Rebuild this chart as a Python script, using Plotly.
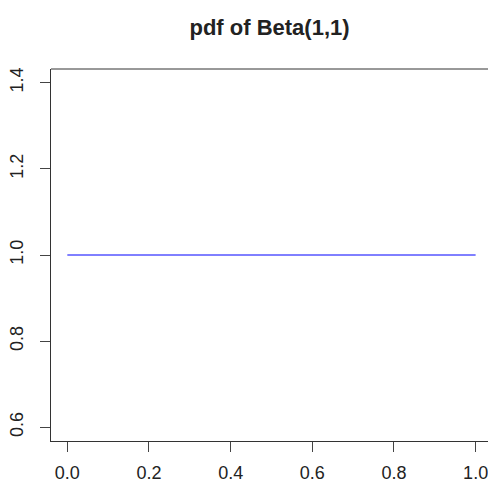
import plotly.graph_objects as go

# Beta(1,1) density on [0, 1]
x_vals = [0.0, 1.0]
pdf_vals = [1.0, 1.0]

x_ticks = [0.0, 0.2, 0.4, 0.6, 0.8, 1.0]
x_tick_text = ["0.0", "0.2", "0.4", "0.6", "0.8", "1.0"]
y_ticks = [0.6, 0.8, 1.0, 1.2, 1.4]
y_tick_text = ["0.6", "0.8", "1.0", "1.2", "1.4"]

font_family = "Liberation Sans, Arial, sans-serif"
ink = "#222222"

fig = go.Figure()
fig.add_trace(go.Scatter(
    x=x_vals, y=pdf_vals, mode="lines",
    line=dict(color="#0000ff", width=1),
    showlegend=False, hoverinfo="skip",
))

fig.update_layout(
    width=488, height=483,
    margin=dict(l=51, r=0, t=69, b=40, pad=0),
    paper_bgcolor="white", plot_bgcolor="white",
    font=dict(family=font_family, size=18, color=ink),
    title=dict(
        text="<b>pdf of Beta(1,1)</b>",
        font=dict(family=font_family, size=22, color=ink),
        x=0.5, xref="paper", xanchor="center",
        y=1 - 27 / 483, yref="container", yanchor="middle",
    ),
    xaxis=dict(
        range=[-0.04, -0.04 + 437 / 408.3],
        tickvals=x_ticks, ticktext=x_tick_text,
        showgrid=False, zeroline=False,
        showline=True, linecolor="#333333", linewidth=1, mirror=False,
        ticks="outside", ticklen=10, tickwidth=1, tickcolor="#444444",
        ticklabeloverflow="allow", ticklabelstandoff=5,
        tickfont=dict(size=18, color=ink),
    ),
    yaxis=dict(
        range=[0.568, 1.432],
        tickvals=y_ticks, ticktext=y_tick_text,
        showgrid=False, zeroline=False,
        showline=True, linecolor="#333333", linewidth=1, mirror=False,
        ticks="outside", ticklen=10, tickwidth=1, tickcolor="#444444",
        tickangle=-90, ticklabelstandoff=10,
        tickfont=dict(size=18, color=ink),
    ),
)

# top edge of the plot box
fig.add_shape(type="line", xref="paper", yref="paper",
              x0=0, x1=1, y0=1, y1=1,
              line=dict(color="#333333", width=1))

fig.write_html("out.html")
